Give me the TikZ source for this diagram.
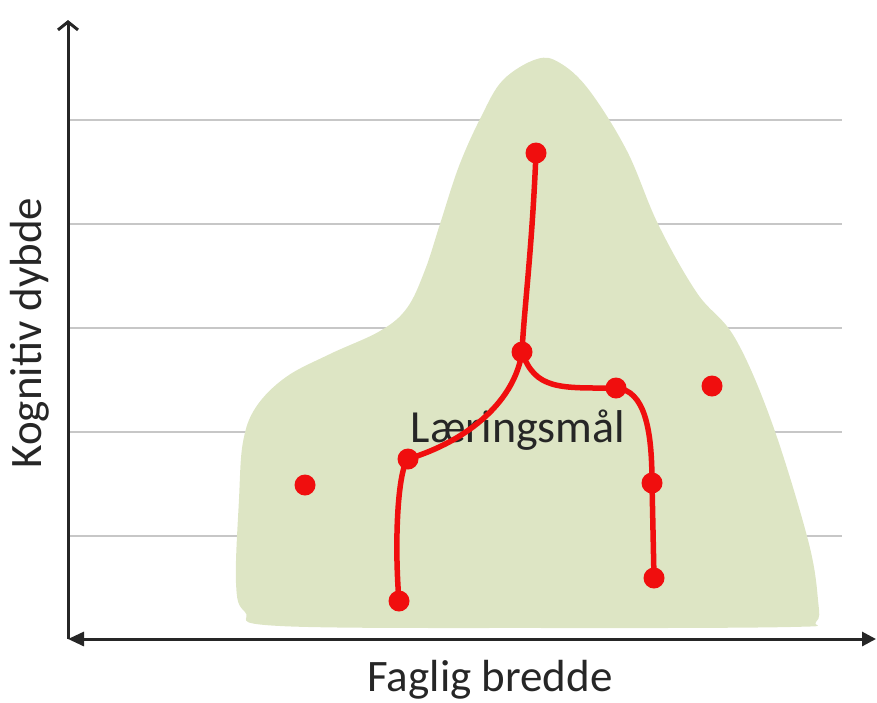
\documentclass[tikz,border=0pt]{standalone}
\usepackage{fontspec}
\setmainfont{Carlito}
\usetikzlibrary{arrows.meta}
\definecolor{areagreen}{RGB}{221,229,196}
\definecolor{goalred}{RGB}{240,14,14}

\begin{document}
\begin{tikzpicture}[x=1pt, y=-1pt,
			every node/.style={font=\fontsize{45}{54}\selectfont, text=black!85, inner sep=1pt},
			gridline/.style={draw=black!22, line width=2pt},
			area/.style={fill=areagreen, draw=none},
			axisline/.style={line width=3pt, black!85},
			goal/.style={circle, fill=goalred, inner sep=0pt, minimum size=21pt},
			link/.style={draw=goalred, line width=5.5pt, line cap=round},
			]
			
			\useasboundingbox (0,0) rectangle (877,702);
			
			% horizontal grid
			\foreach \y in {120,224,328,432,536}
			\draw[gridline] (68,\y) -- (842,\y);
			
			% competence area
			\fill[area] plot[smooth cycle, tension=0.6] coordinates {
				(537,59) (503,80) (481,117) (459,166) (440,224) (425,270) (407,308)
				(380,331) (330,354) (286,377) (256,407) (243,442) (239,499) (236,583)
				(245,612) (280,626) (550,628) (790,627) (816,622) (818,600) (808,540)
				(772,423) (735,338) (697,293) (658,224) (627,151) (589,90) (560,63)};
			
			% axes
			\coordinate (origin) at (68,639);
			\coordinate (ytop) at (68,20);
			\coordinate (xend) at (876,639);
			\draw[axisline, -{Straight Barb[length=8pt, width=20pt]}] (origin) -- (ytop);
			\draw[axisline, {Triangle[length=16pt, width=14pt]}-{Triangle[length=14pt, width=14pt]}] (origin) -- (xend);
			
			\node (xlabel) at (490,680) {Faglig bredde};
			\node[rotate=90] (ylabel) at (30,333) {Kognitiv dybde};
			
			\node[font=\fontsize{46}{54}\selectfont] (goaltext) at (518,430) {Læringsmål};
			
			% goals
			\node[goal] (top) at (536,153) {};
			\node[goal] (hub) at (522,352) {};
			\node[goal] (rmid) at (616,388) {};
			\node[goal] (lmid) at (408,459) {};
			\node[goal] (rlow) at (652,483) {};
			\node[goal] (rbot) at (654,578) {};
			\node[goal] (lbot) at (399,601) {};
			\node[goal] (lone) at (305,485) {};
			\node[goal] (rone) at (712,386) {};
			
			\draw[link] (top.center) .. controls (532,250) and (524,310) .. (hub.center);
			\draw[link] (hub.center) .. controls (515,400) and (470,440) .. (lmid.center);
			\draw[link] (lmid.center) .. controls (398,470) and (394,540) .. (lbot.center);
			\draw[link] (hub.center) .. controls (535,390) and (560,388) .. (rmid.center);
			\draw[link] (rmid.center) .. controls (645,390) and (652,430) .. (rlow.center);
			\draw[link] (rlow.center) -- (rbot.center);
			
		\end{tikzpicture}
\end{document}
